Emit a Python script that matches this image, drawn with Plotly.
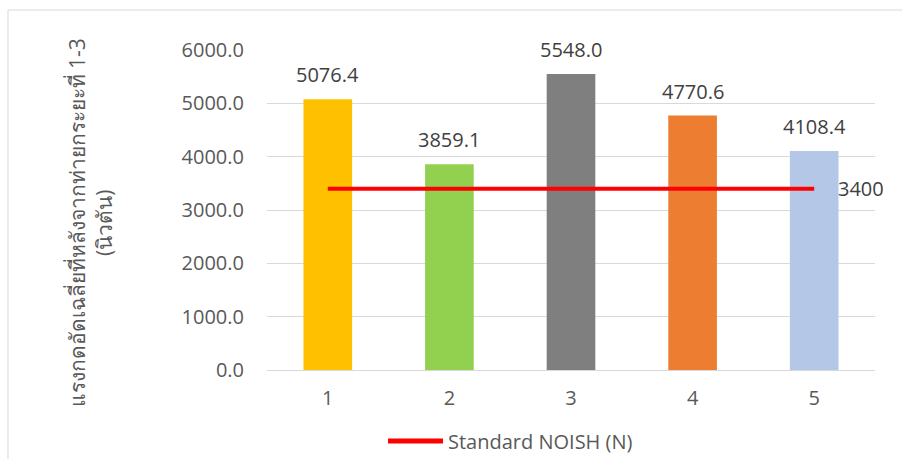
import plotly.graph_objects as go

# Rounds 1-5 and their average compressive force
categories = [1, 2, 3, 4, 5]
values = [5076.4, 3859.1, 5548.0, 4770.6, 4108.4]
bar_colors = ["#FFC000", "#92D050", "#7F7F7F", "#ED7D31", "#B4C7E7"]

# NIOSH reference limit
standard_name = "Standard NOISH (N)"
standard_value = 3400
standard_line = [standard_value] * len(categories)

y_ticks = [0, 1000, 2000, 3000, 4000, 5000, 6000]
y_title = "แรงกดอัดเฉลี่ยที่หลังจากท่ายกระยะที่ 1-3<br>(นิวตัน)"

FONT = "Open Sans, Noto Sans, sans-serif"
SIZE = 20
RED = "#FF0000"

fig = go.Figure()

fig.add_trace(go.Bar(
    x=categories,
    y=values,
    width=0.4,
    marker=dict(color=bar_colors, line=dict(width=0)),
    showlegend=False,
    hoverinfo="x+y",
))

fig.add_trace(go.Scatter(
    x=categories,
    y=standard_line,
    mode="lines",
    line=dict(color=RED, width=4),
    name=standard_name,
    showlegend=False,
))

# value labels above the bars
for c, v in zip(categories, values):
    fig.add_annotation(
        x=c, y=v, text=f"{v:.1f}",
        showarrow=False, xanchor="center", yanchor="bottom",
        yshift=9,
        font=dict(family=FONT, size=SIZE, color="#404040"),
    )

# value label at the end of the standard line
fig.add_annotation(
    x=categories[-1], y=standard_line[-1],
    text=str(standard_value),
    showarrow=False,
    xanchor="left", yanchor="middle",
    xshift=22,
    font=dict(family=FONT, size=SIZE, color="#404040"),
)

# vertical axis title
fig.add_annotation(
    xref="paper", yref="paper",
    x=-0.29, y=0.46,
    text=y_title,
    textangle=-90,
    showarrow=False,
    xanchor="center", yanchor="middle",
    font=dict(family=FONT, size=21, color="#595959"),
)

# legend key drawn below the axis
fig.add_shape(
    type="line", xref="paper", yref="paper",
    x0=0.199, x1=0.2895, y0=-0.222, y1=-0.222,
    line=dict(color=RED, width=5),
)
fig.add_annotation(
    xref="paper", yref="paper",
    x=0.2945, y=-0.222,
    text=standard_name,
    showarrow=False, xanchor="left", yanchor="middle",
    font=dict(family=FONT, size=SIZE, color="#595959"),
)

# outer chart frame
fig.add_shape(
    type="rect", xref="paper", yref="paper",
    x0=-0.426, y0=-0.3, x1=1.06, y1=1.125,
    line=dict(color="#D9D9D9", width=1),
    fillcolor="rgba(0,0,0,0)",
    layer="below",
)

fig.update_layout(
    width=902, height=459,
    margin=dict(l=267, r=27, t=50, b=89),
    paper_bgcolor="white",
    plot_bgcolor="white",
    font=dict(family=FONT, color="#595959"),
    showlegend=False,
    xaxis=dict(
        range=[0.5, 5.5],
        tickvals=categories,
        ticktext=[str(c) for c in categories],
        tickfont=dict(family=FONT, size=SIZE, color="#595959"),
        showgrid=False,
        showline=False,
        zeroline=False,
        ticks="",
        ticklabelstandoff=14,
    ),
    yaxis=dict(
        range=[0, 6000],
        tickvals=y_ticks,
        ticktext=[f"{t:.1f}" for t in y_ticks],
        tickfont=dict(family=FONT, size=SIZE, color="#595959"),
        showgrid=True,
        gridcolor="#D9D9D9",
        gridwidth=1,
        zeroline=True,
        zerolinecolor="#D9D9D9",
        zerolinewidth=1,
        showline=False,
        ticks="",
        ticklabelstandoff=22,
    ),
)

fig.write_html("out.html")
